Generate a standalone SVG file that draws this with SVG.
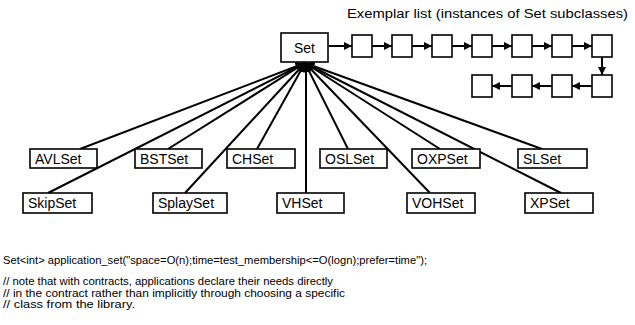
<svg xmlns="http://www.w3.org/2000/svg" width="635" height="325" viewBox="0 0 635 325">
<defs>
<style>
text{font-family:"Liberation Sans",Arial,sans-serif;fill:#000}
.box{fill:#fff;stroke:#000;stroke-width:1.6}
.lbl{font-size:14px}
.fan{stroke:#000;stroke-width:2;fill:none}
.chain{stroke:#000;stroke-width:2;fill:none}
.code{font-size:11px}
</style>
<marker id="ah" viewBox="0 0 10 10" refX="10" refY="5" markerWidth="10" markerHeight="8" markerUnits="userSpaceOnUse" orient="auto">
<path d="M0,0 L10,5 L0,10 Z" fill="#000"/>
</marker>
<marker id="fh" viewBox="0 0 10 10" refX="10" refY="5" markerWidth="10" markerHeight="9" markerUnits="userSpaceOnUse" orient="auto">
<path d="M0,0 L10,5 L0,10 Z" fill="#000"/>
</marker>
</defs>
<rect width="635" height="325" fill="#fff"/>
<text x="347" y="18" style="font-size:12.5px" textLength="281" lengthAdjust="spacingAndGlyphs">Exemplar list (instances of Set subclasses)</text>
<g id="connectors">
<line class="chain" x1="329" y1="46" x2="352" y2="46" marker-end="url(#ah)"/>
<line class="chain" x1="372" y1="46" x2="392" y2="46" marker-end="url(#ah)"/>
<line class="chain" x1="412" y1="46" x2="432" y2="46" marker-end="url(#ah)"/>
<line class="chain" x1="452" y1="46" x2="472" y2="46" marker-end="url(#ah)"/>
<line class="chain" x1="492" y1="46" x2="512" y2="46" marker-end="url(#ah)"/>
<line class="chain" x1="532" y1="46" x2="552" y2="46" marker-end="url(#ah)"/>
<line class="chain" x1="572" y1="46" x2="592" y2="46" marker-end="url(#ah)"/>
<line class="chain" x1="602" y1="57" x2="602" y2="75" marker-end="url(#ah)"/>
<line class="chain" x1="592" y1="86" x2="572" y2="86" marker-end="url(#ah)"/>
<line class="chain" x1="552" y1="86" x2="532" y2="86" marker-end="url(#ah)"/>
<line class="chain" x1="512" y1="86" x2="492" y2="86" marker-end="url(#ah)"/>
<line class="fan" x1="80" y1="149" x2="305" y2="63" marker-end="url(#fh)"/>
<line class="fan" x1="48" y1="193" x2="305" y2="63" marker-end="url(#fh)"/>
<line class="fan" x1="168" y1="149" x2="305" y2="63" marker-end="url(#fh)"/>
<line class="fan" x1="185" y1="193" x2="305" y2="63" marker-end="url(#fh)"/>
<line class="fan" x1="257" y1="149" x2="305" y2="63" marker-end="url(#fh)"/>
<line class="fan" x1="306" y1="193" x2="306" y2="63" marker-end="url(#fh)"/>
<line class="fan" x1="348" y1="149" x2="305" y2="63" marker-end="url(#fh)"/>
<line class="fan" x1="430" y1="193" x2="305" y2="63" marker-end="url(#fh)"/>
<line class="fan" x1="440" y1="149" x2="305" y2="63" marker-end="url(#fh)"/>
<line class="fan" x1="542" y1="149" x2="305" y2="63" marker-end="url(#fh)"/>
<line class="fan" x1="561" y1="193" x2="305" y2="63" marker-end="url(#fh)"/>
</g>
<g id="set"><rect class="box" x="281" y="33" width="47" height="29"/><text class="lbl" x="304.5" y="52.5" text-anchor="middle">Set</text></g>
<g id="e1"><rect class="box" x="352" y="35" width="20" height="22"/></g>
<g id="e2"><rect class="box" x="392" y="35" width="20" height="22"/></g>
<g id="e3"><rect class="box" x="432" y="35" width="20" height="22"/></g>
<g id="e4"><rect class="box" x="472" y="35" width="20" height="22"/></g>
<g id="e5"><rect class="box" x="512" y="35" width="20" height="22"/></g>
<g id="e6"><rect class="box" x="552" y="35" width="20" height="22"/></g>
<g id="e7"><rect class="box" x="592" y="35" width="20" height="22"/></g>
<g id="e8"><rect class="box" x="592" y="75" width="20" height="22"/></g>
<g id="e9"><rect class="box" x="552" y="75" width="20" height="22"/></g>
<g id="e10"><rect class="box" x="512" y="75" width="20" height="22"/></g>
<g id="e11"><rect class="box" x="472" y="75" width="20" height="22"/></g>
<g id="avlset"><rect class="box" x="30" y="149" width="67" height="19"/><text class="lbl" x="35" y="164">AVLSet</text></g>
<g id="bstset"><rect class="box" x="135" y="149" width="67" height="19"/><text class="lbl" x="140" y="164">BSTSet</text></g>
<g id="chset"><rect class="box" x="227" y="149" width="68" height="19"/><text class="lbl" x="232" y="164">CHSet</text></g>
<g id="oslset"><rect class="box" x="320" y="149" width="67" height="19"/><text class="lbl" x="325" y="164">OSLSet</text></g>
<g id="oxpset"><rect class="box" x="412" y="149" width="68" height="19"/><text class="lbl" x="417" y="164">OXPSet</text></g>
<g id="slset"><rect class="box" x="518" y="149" width="69" height="19"/><text class="lbl" x="523" y="164">SLSet</text></g>
<g id="skipset"><rect class="box" x="23" y="193" width="69" height="20"/><text class="lbl" x="28" y="208">SkipSet</text></g>
<g id="splayset"><rect class="box" x="153" y="193" width="74" height="20"/><text class="lbl" x="158" y="208">SplaySet</text></g>
<g id="vhset"><rect class="box" x="277" y="193" width="67" height="20"/><text class="lbl" x="282" y="208">VHSet</text></g>
<g id="vohset"><rect class="box" x="407" y="193" width="68" height="20"/><text class="lbl" x="412" y="208">VOHSet</text></g>
<g id="xpset"><rect class="box" x="525" y="193" width="68" height="20"/><text class="lbl" x="530" y="208">XPSet</text></g>
<text class="code" x="3" y="264" textLength="424" lengthAdjust="spacingAndGlyphs">Set&lt;int&gt;  application_set("space=O(n);time=test_membership&lt;=O(logn);prefer=time");</text>
<text class="code" x="3" y="285" textLength="330" lengthAdjust="spacingAndGlyphs">// note that with contracts, applications declare their needs directly</text>
<text class="code" x="3" y="296.5" textLength="342" lengthAdjust="spacingAndGlyphs">// in the contract rather than implicitly through choosing a specific</text>
<text class="code" x="3" y="308" textLength="132" lengthAdjust="spacingAndGlyphs">// class from the library.</text>
</svg>
